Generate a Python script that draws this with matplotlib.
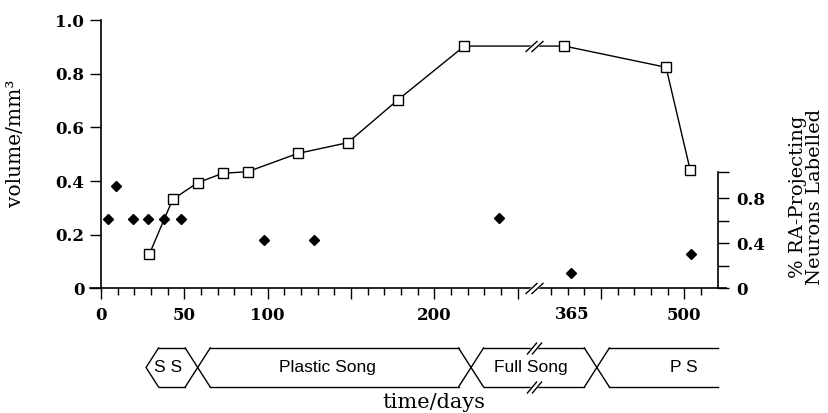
import numpy as np
import matplotlib
matplotlib.use("Agg")
import matplotlib.pyplot as plt
from matplotlib.path import Path

# volume (left axis, open squares)
vol_days = [29, 43, 58, 73, 88, 118, 148, 178, 218, 356, 478, 507]
vol_mm3 = [0.128, 0.332, 0.394, 0.429, 0.435, 0.503, 0.543, 0.702, 0.903, 0.903, 0.824, 0.441]

# % RA-projecting neurons labelled (right axis, filled diamonds)
ra_days = [4, 9, 19, 28, 38, 48, 98, 128, 239, 364, 508]
ra_frac = [0.62, 0.91, 0.62, 0.62, 0.62, 0.62, 0.43, 0.43, 0.63, 0.14, 0.31]

x_labels = ["0", "50", "100", "200", "365", "500"]
x_label_days = [0, 50, 100, 200, 365, 500]

phase_names = ["S S", "Plastic Song", "Full Song", "P S"]
phase_edges = [27, 58, 222, 395, 540]
phase_label_days = [40, 136, 258, 499]

break_day = 290

# broken time axis: days 259..320 are squeezed out, after that half the scale
d_anchor = [-1000, 259, 320, 2000]
p_anchor = [-1000, 259, 260, 1100]


def fwd(d):
    return np.interp(d, d_anchor, p_anchor)


def inv(p):
    return np.interp(p, p_anchor, d_anchor)


def break_paths(w, h, gap):
    a = (w + gap) / 2
    lines = Path([(-a, -h / 2), (-a + w, h / 2), (-a + gap, -h / 2), (a, h / 2)],
                 [Path.MOVETO, Path.LINETO, Path.MOVETO, Path.LINETO])
    fill = Path([(-a, -h / 2), (-a + gap, -h / 2), (a, h / 2), (-a + w, h / 2), (-a, -h / 2)],
                [Path.MOVETO, Path.LINETO, Path.LINETO, Path.LINETO, Path.CLOSEPOLY])
    return fill, lines, max(a, h / 2) * 2 * 0.72


def draw_break(ax, x, y, w, h, gap):
    fill, lines, ms = break_paths(w, h, gap)
    ax.plot([x], [y], marker=fill, ms=ms, mfc="white", mec="white", mew=1.5,
            ls="none", zorder=6, clip_on=False)
    ax.plot([x], [y], marker=lines, ms=ms, mfc="none", mec="black", mew=1.0,
            ls="none", zorder=7, clip_on=False)


serif = "DejaVu Serif"
sans = "Liberation Sans"

fig = plt.figure(figsize=(8.29, 4.13), dpi=100)
ax = fig.add_axes([0.1086, 0.3015, 0.7672, 0.650])
ax.set_xscale("function", functions=(fwd, inv))
ax.set_xlim(-6.6, 550)
ax.set_ylim(0, 1.0)

ax.plot(vol_days, vol_mm3, color="black", lw=1.0, marker="s", ms=7,
        mfc="white", mec="black", mew=1.0, zorder=4, clip_on=False)

for s in ["top", "right"]:
    ax.spines[s].set_visible(False)
ax.spines["left"].set_position(("data", 0))
ax.spines["left"].set_bounds(0, 1.0)
ax.spines["left"].set_linewidth(1.2)
ax.spines["bottom"].set_linewidth(1.2)

ax.set_yticks([0, 0.2, 0.4, 0.6, 0.8, 1.0])
ax.set_yticklabels(["0", "0.2", "0.4", "0.6", "0.8", "1.0"])
ax.tick_params(axis="y", direction="out", length=8, width=1.0, pad=4)

major_days = [0, 50, 100, 150, 200, 250, 400, 500]
major_text = ["0", "50", "100", "", "200", "", "", "500"]
minor_days = [d for d in range(10, 260, 10) if d % 50] + [d for d in range(340, 540, 20) if d % 100]
ax.set_xticks(major_days)
ax.set_xticklabels(major_text)
ax.set_xticks(minor_days, minor=True)
ax.tick_params(axis="x", which="major", direction="out", length=8, width=1.0, pad=5)
ax.tick_params(axis="x", which="minor", direction="out", length=5, width=1.0)
ax.annotate(x_labels[4], xy=(x_label_days[4], 0), xycoords=("data", "axes fraction"),
            xytext=(0, -12.5), textcoords="offset points", ha="center", va="top",
            fontsize=12, family=serif, fontweight="bold")
for lab in ax.get_xticklabels() + ax.get_yticklabels():
    lab.set_fontfamily(serif)
    lab.set_fontsize(12)
    lab.set_fontweight("bold")

ax.set_ylabel("volume/mm³", fontsize=14.5, family=serif)
ax.yaxis.set_label_coords(-0.102, 0.54)

draw_break(ax, break_day, 0, 12, 11, 6)
draw_break(ax, break_day, 0.903, 12, 11, 6)

# right axis
ax2 = ax.twinx()
ax2.set_ylim(0, 268.5 / 112.5)
for s in ["top", "left", "bottom"]:
    ax2.spines[s].set_visible(False)
ax2.spines["right"].set_position(("data", 540))
ax2.spines["right"].set_bounds(0, 1.04)
ax2.spines["right"].set_linewidth(1.2)
ax2.set_yticks([0, 0.2, 0.4, 0.6, 0.8, 1.04])
ax2.set_yticklabels(["0", "", "0.4", "", "0.8", ""])
ax2.tick_params(axis="y", direction="out", length=8, width=1.0, pad=5)
for lab in ax2.get_yticklabels():
    lab.set_fontfamily(serif)
    lab.set_fontsize(12)
    lab.set_fontweight("bold")
ax2.plot(ra_days, ra_frac, ls="none", marker="D", ms=5.5, color="black", clip_on=False)
ax.text(1.126, 0.34, "% RA-Projecting\nNeurons Labelled", rotation=90,
        ha="center", va="center", multialignment="center", linespacing=0.95,
        fontsize=14, family=serif, transform=ax.transAxes)

# phase bar
axp = fig.add_axes([0.1086, 0.063, 0.7672, 0.0944])
axp.set_xscale("function", functions=(fwd, inv))
axp.set_xlim(-6.6, 550)
axp.set_ylim(0, 1)
axp.axis("off")
w = 7.5
pe = [fwd(d) for d in phase_edges]
kw = dict(color="black", lw=1.0, clip_on=False)
# left point
axp.plot([inv(pe[0] + w), inv(pe[0]), inv(pe[0] + w)], [1, 0.5, 0], **kw)
for p in pe[1:-1]:
    axp.plot([inv(p - w), inv(p + w)], [1, 0], **kw)
    axp.plot([inv(p - w), inv(p + w)], [0, 1], **kw)
for i in range(len(phase_names)):
    x0 = inv(pe[i] + w)
    x1 = inv(pe[i + 1] - w) if i < len(phase_names) - 1 else phase_edges[-1]
    axp.plot([x0, x1], [1, 1], **kw)
    axp.plot([x0, x1], [0, 0], **kw)
    axp.text(phase_label_days[i], 0.5, phase_names[i], ha="center", va="center",
             fontsize=12.5, family=sans)
draw_break(axp, break_day, 1, 10, 12, 5)
draw_break(axp, break_day, 0, 10, 12, 5)

fig.text(0.523, 0.026, "time/days", ha="center", va="center", fontsize=15, family=serif)

fig.savefig("out.png", dpi=100)
